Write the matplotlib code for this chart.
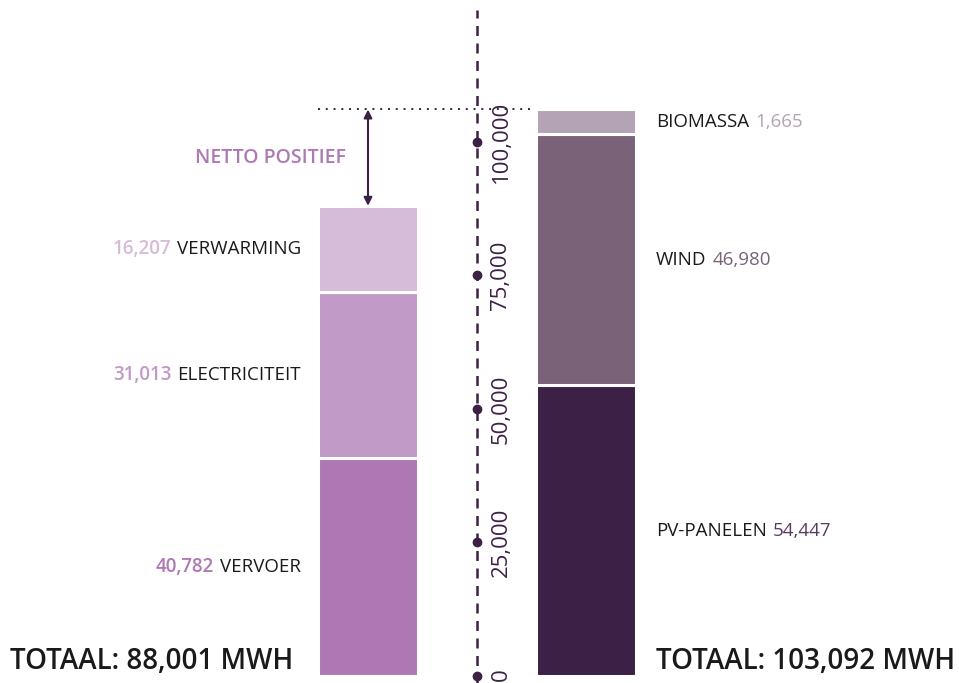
import matplotlib
matplotlib.use("Agg")
import matplotlib.pyplot as plt

plt.rcParams['font.family'] = ['Open Sans', 'DejaVu Sans']

# ---- data ----
use_labels = ["VERVOER", "ELECTRICITEIT", "VERWARMING"]
use_values = [40782, 31013, 16207]
prod_labels = ["PV-PANELEN", "WIND", "BIOMASSA"]
prod_values = [54447, 46980, 1665]
use_total_label = "TOTAAL: 88,001 MWH"
prod_total_label = "TOTAAL: 103,092 MWH"
tick_values = [0, 25000, 50000, 75000, 100000]
tick_labels = ["0", "25,000", "50,000", "75,000", "100,000"]
net_label = "NETTO POSITIEF"

# ---- style ----
use_colors = ["#ae78b4", "#c19ac7", "#d6bcd9"]
prod_colors = ["#3d2045", "#7a6279", "#b3a3b4"]
prod_num_colors = ["#5a3a62", "#7a6279", "#b3a3b4"]
dark = "#3d2045"
text_dark = "#1a1a1a"
min_seg = 4600  # minimal visible segment height

W, H = 959, 683
fig = plt.figure(figsize=(W / 100, H / 100), dpi=100)
ax = fig.add_axes([0, 0, 1, 1])
px_per_unit = 534.3 / 100000
y0_px = 676
ax.set_xlim(0, W)
ax.set_ylim(-(H - y0_px) / px_per_unit, y0_px / px_per_unit)
ax.axis('off')

left_x, right_x = 368, 585.5
bar_w = 100

def stack(xc, values, colors):
    bottom = 0
    segs = []
    for v, c in zip(values, colors):
        h = max(v, min_seg)
        ax.bar(xc, h, bottom=bottom, width=bar_w, color=c, edgecolor='white',
               linewidth=2.2, zorder=2)
        segs.append((bottom, bottom + h))
        bottom += h
    return segs, bottom

use_segs, use_top = stack(left_x, use_values, use_colors)
prod_segs, prod_top = stack(right_x, prod_values, prod_colors)

fs = 13.5
inv = ax.transData.inverted()
# left labels
for (b, t), lab, v, c in zip(use_segs, use_labels, use_values, use_colors):
    ym = (b + t) / 2
    tx = ax.text(301, ym, lab, ha='right', va='center', fontsize=fs, color=text_dark)
    fig.canvas.draw()
    bb = tx.get_window_extent()
    xleft = inv.transform((bb.x0, 0))[0]
    ax.text(xleft - 6, ym, f"{v:,}", ha='right', va='center', fontsize=fs,
            color=c, fontweight='semibold')

# right labels
for (b, t), lab, v, c in zip(prod_segs, prod_labels, prod_values, prod_num_colors):
    ym = (b + t) / 2
    tx = ax.text(656, ym, lab, ha='left', va='center', fontsize=fs, color=text_dark)
    fig.canvas.draw()
    bb = tx.get_window_extent()
    xr = inv.transform((bb.x1, 0))[0]
    ax.text(xr + 6, ym, f"{v:,}", ha='left', va='center', fontsize=fs, color=c)

# central axis
ax.plot([477, 477], [ax.get_ylim()[0], 666 / px_per_unit], color=dark,
        lw=1.8, ls=(0, (4, 3)), zorder=1)
ax.scatter([477] * len(tick_values), tick_values, s=36, color=dark, zorder=3)
for tv, tl in zip(tick_values, tick_labels):
    ax.text(501, tv + (0 if tv else 300), tl, rotation=90, ha='center', va='center',
            fontsize=16, color=dark)

# dotted line at production top + arrow
ax.plot([318, 532], [prod_top, prod_top], color=dark, lw=1.4, ls=(0, (1, 3)), zorder=1)
ax.annotate('', xy=(left_x, prod_top), xytext=(left_x, use_top),
            arrowprops=dict(arrowstyle='<|-|>', color=dark, lw=1.5,
                            mutation_scale=12, shrinkA=0, shrinkB=0))
ax.text(346, (prod_top + use_top) / 2, net_label, ha='right', va='center',
        fontsize=14, color="#ae78b4", fontweight='semibold')

# totals
ax.text(10, 0, use_total_label, ha='left', va='bottom', fontsize=20,
        color=text_dark, fontweight='semibold')
ax.text(955, 0, prod_total_label, ha='right', va='bottom', fontsize=20,
        color=text_dark, fontweight='semibold')

fig.savefig("out.png", dpi=100)
